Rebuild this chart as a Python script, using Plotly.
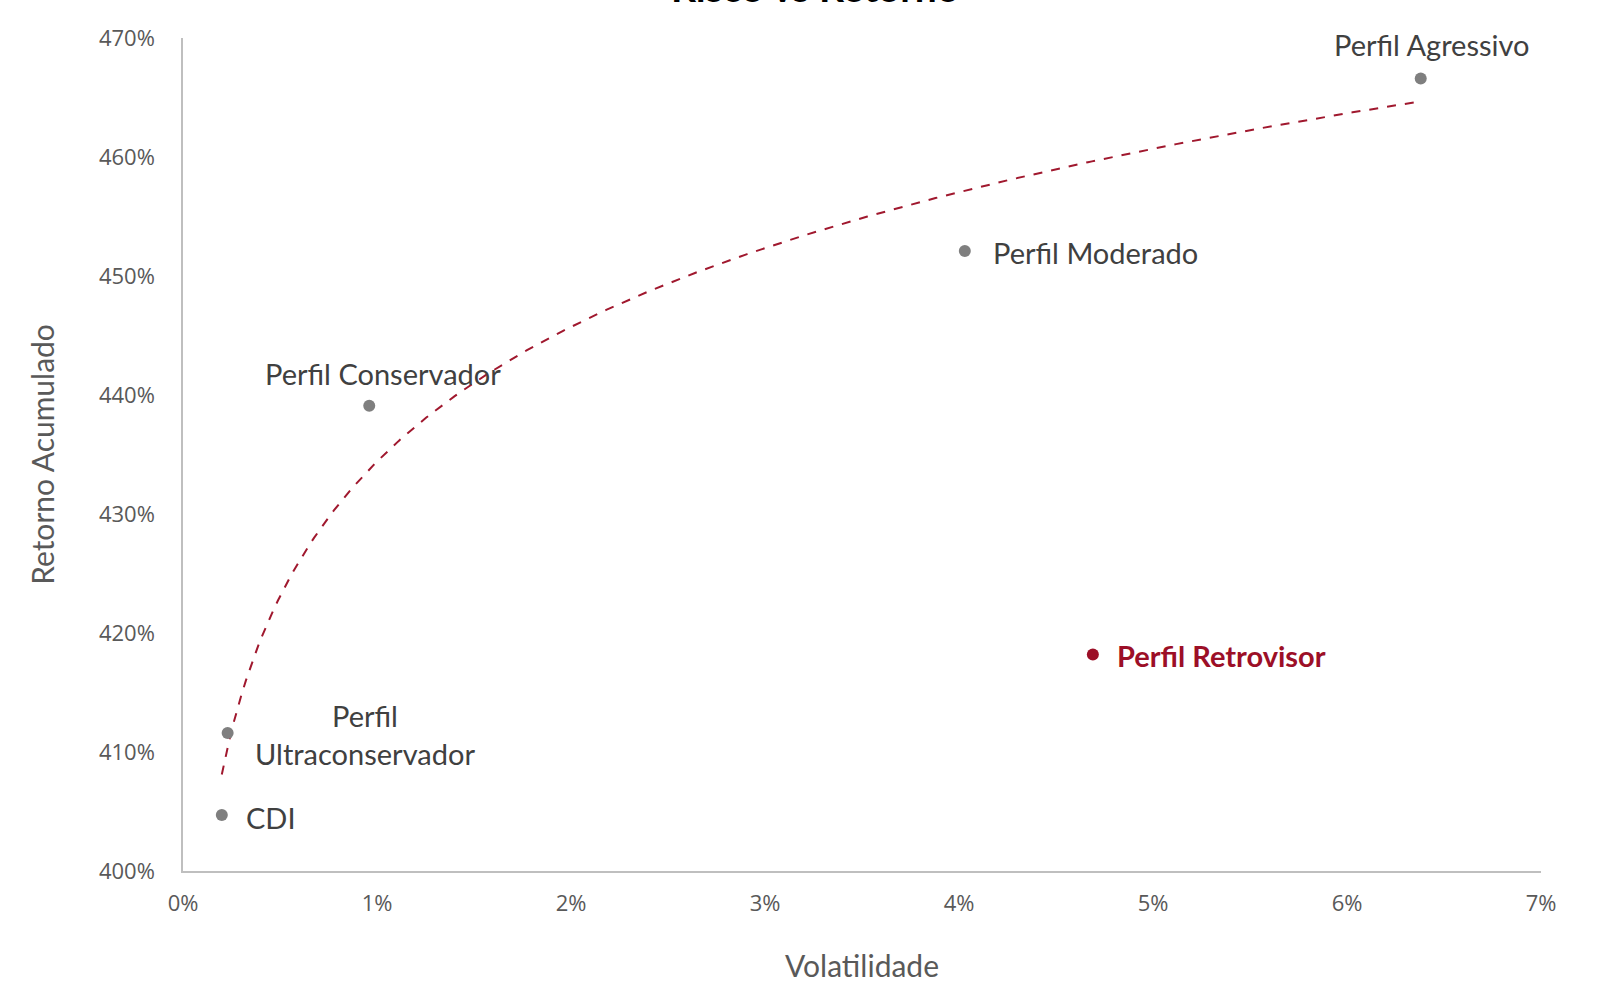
import numpy as np
import plotly.graph_objects as go

# Data
names = ["CDI", "Perfil<br>Ultraconservador", "Perfil Conservador", "Perfil Moderado", "Perfil Agressivo"]
volatilidade = [0.0020, 0.0023, 0.0096, 0.0403, 0.0638]
retorno = [4.047, 4.116, 4.391, 4.521, 4.666]
retro_name = ["Perfil Retrovisor"]
retro_vol = [0.0469]
retro_ret = [4.182]
x_ticks = [0, 0.01, 0.02, 0.03, 0.04, 0.05, 0.06, 0.07]
y_ticks = [4.0, 4.1, 4.2, 4.3, 4.4, 4.5, 4.6, 4.7]

# Logarithmic trendline fitted on the gray points
vx = np.array(volatilidade)
coef = np.polyfit(np.log(vx), np.array(retorno), 1)
tx = np.linspace(vx.min(), vx.max(), 300)
ty = coef[0] * np.log(tx) + coef[1]

FONT = "Lato"
LSIZE = 29
fig = go.Figure()
fig.add_trace(go.Scatter(x=tx, y=ty, mode="lines",
                         line=dict(color="#A0182E", width=2, dash="dash"),
                         hoverinfo="skip", showlegend=False))
fig.add_trace(go.Scatter(x=volatilidade, y=retorno, mode="markers",
                         marker=dict(color="#7F7F7F", size=12),
                         showlegend=False))
fig.add_trace(go.Scatter(x=retro_vol, y=retro_ret, mode="markers",
                         marker=dict(color="#9C0F27", size=12),
                         showlegend=False))

# Labels
offsets = {
    "CDI": dict(xshift=22, yshift=-2, xanchor="left", yanchor="middle", align="left"),
    "Perfil<br>Ultraconservador": dict(xshift=137, yshift=-2, xanchor="center", yanchor="middle", align="center"),
    "Perfil Conservador": dict(xshift=14, yshift=32, xanchor="center", yanchor="middle", align="center"),
    "Perfil Moderado": dict(xshift=26, yshift=-1, xanchor="left", yanchor="middle", align="left"),
    "Perfil Agressivo": dict(xshift=11, yshift=34, xanchor="center", yanchor="middle", align="center"),
}
for n, x, y in zip(names, volatilidade, retorno):
    o = offsets[n]
    fig.add_annotation(x=x, y=y, text=n, showarrow=False,
                       font=dict(family=FONT, size=LSIZE, color="#404040"),
                       **o)
for n, x, y in zip(retro_name, retro_vol, retro_ret):
    fig.add_annotation(x=x, y=y, text="<b>" + n + "</b>", showarrow=False,
                       xanchor="left", yanchor="middle", xshift=22, yshift=-1,
                       font=dict(family=FONT, size=LSIZE, color="#9C0F27"))

fig.add_annotation(x=0.5, xref="paper", y=1.031, yref="paper", yanchor="bottom",
                   xshift=-47,
                   text="<b>Risco vs Retorno</b>", showarrow=False,
                   font=dict(family=FONT, size=39, color="#000000"))

fig.update_layout(
    width=1599, height=984,
    margin=dict(l=183, r=58, t=38, b=113),
    paper_bgcolor="white", plot_bgcolor="white",
    font=dict(family="Open Sans", color="#595959"),
    showlegend=False,
)
fig.update_xaxes(range=[0, 0.07], tickvals=x_ticks, tickformat=".0%",
                 automargin=False,
                 showgrid=False, zeroline=False, showline=True,
                 linecolor="#BFBFBF", linewidth=1.5, ticks="",
                 tickfont=dict(family="Open Sans", size=22, color="#595959"),
                 ticklabelstandoff=12,
                 title=dict(text="Volatilidade", standoff=40,
                            font=dict(family=FONT, size=30, color="#595959")))
fig.update_yaxes(range=[4.0, 4.7], tickvals=y_ticks, tickformat=".0%",
                 automargin=False,
                 showgrid=False, zeroline=False, showline=True,
                 linecolor="#BFBFBF", linewidth=1.5, ticks="",
                 tickfont=dict(family="Open Sans", size=22, color="#595959"),
                 ticklabelstandoff=22,
                 title=dict(text="Retorno Acumulado", standoff=35,
                            font=dict(family=FONT, size=30, color="#595959")))

fig.write_html("out.html")
